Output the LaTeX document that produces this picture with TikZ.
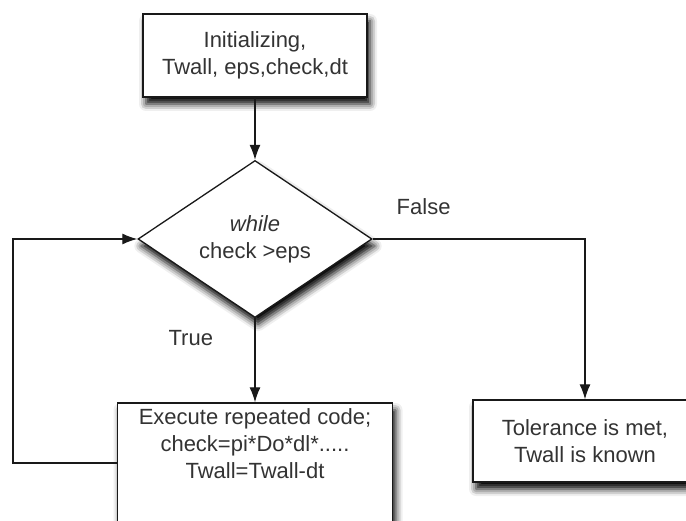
\documentclass[tikz,border=0pt]{standalone}
\usepackage{fontspec}
\setmainfont{Liberation Sans}
\usetikzlibrary{shapes.geometric,arrows.meta,positioning,shadows.blur}

\begin{document}
\begin{tikzpicture}[x=1pt,y=-1pt,
    font=\fontsize{22}{27}\selectfont,
    every node/.style={text=black!80, align=center},
    boxshadow/.style={blur shadow={shadow xshift=3pt,shadow yshift=-7pt,shadow blur radius=7pt,shadow opacity=100}},
    block/.style={draw=black!90, line width=1.3pt, fill=white, boxshadow, minimum width=224pt, minimum height=83pt},
    decision/.style={diamond, draw=black!90, line width=1.3pt, fill=white, boxshadow, aspect=1.5, inner sep=0pt, minimum width=234pt, minimum height=157pt},
    flow/.style={draw=black!90, line width=1.3pt, -{Latex[length=15pt,width=11pt]}}]
  \useasboundingbox (0,0) rectangle (686,521);
  \clip (0,0) rectangle (686,521);
  \node[block] (init) at (255,55.5) {Initializing,\\Twall, eps,check,dt};
  \node[decision] (while) at (255,239) {\textit{while}\\check >eps};
  \node[block, minimum width=275pt, minimum height=120pt] (exec) at (255,463) {};
  \node[below=3pt of exec.north] (exectxt) {Execute repeated code;\\check=pi*Do*dl*.....\\Twall=Twall-dt};
  \node[block, minimum height=82pt] (tol) at (585,441) {Tolerance is met,\\Twall is known};
  \coordinate (back) at (13,239);
  \draw[flow] (init) -- (while);
  \draw[flow] (while) -- node[pos=0.24, left=38pt] (true) {True} (exec);
  \draw[flow] (while) -| node[pos=0.12, yshift=32pt] (false) {False} (tol);
  \draw[flow] (exec) -| (back) -- (while);
\end{tikzpicture}
\end{document}
